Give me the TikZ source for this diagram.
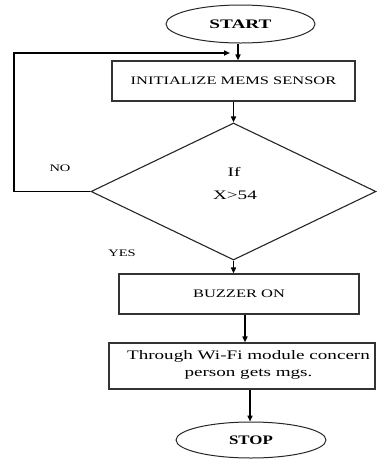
\documentclass[tikz,border=0pt]{standalone}
\usepackage{fontspec}
\setmainfont{Liberation Serif}
\usetikzlibrary{shapes.geometric,arrows.meta}
\newcommand{\sx}[2]{\scalebox{#1}[1]{#2}}
\begin{document}
\begin{tikzpicture}[x=1pt,y=-1pt,
  box/.style={draw=black!80, line width=1.1pt, rectangle, inner sep=0pt},
  term/.style={draw=black!85, line width=1pt, ellipse, inner sep=0pt},
  conn/.style={line width=1.5pt, -{Triangle[length=6pt,width=5pt]}},
  lbl/.style={inner sep=0pt}]
\useasboundingbox (0,0) rectangle (376,459);

\node[term, minimum width=149pt, minimum height=38pt] (start) at (240.5,24)
  {\fontsize{13}{15}\selectfont\bfseries\sx{1.48}{START}};
\node[box, minimum width=243pt, minimum height=40pt] (init) at (233.5,81)
  {\fontsize{11.5}{14}\selectfont\sx{1.43}{INITIALIZE MEMS SENSOR}};
\node[diamond, draw=black!85, line width=1.1pt, minimum width=285pt, minimum height=137pt,
  inner sep=0pt, aspect=2.08] (dec) at (233.5,191.5) {};
\node[lbl] (iftxt) at (234,172) {\fontsize{13}{15}\selectfont\sx{1.48}{If}};
\node[lbl] (cond) at (235,195) {\fontsize{13}{15}\selectfont\sx{1.48}{X>54}};
\node[lbl] (no) at (60,168) {\fontsize{10}{12}\selectfont\sx{1.45}{NO}};
\node[lbl] (yes) at (122,253) {\fontsize{10}{12}\selectfont\sx{1.45}{YES}};
\node[box, minimum width=240pt, minimum height=40pt] (buzz) at (239,294)
  {\fontsize{11.5}{14}\selectfont\sx{1.43}{BUZZER ON}};
\node[box, minimum width=266pt, minimum height=46pt] (wifi) at (242,366) {};
\node[lbl, align=center, font=\fontsize{13}{17}\selectfont] (wifitxt) at (248.5,365)
  {\sx{1.47}{Through Wi-Fi module concern}\\\sx{1.47}{person gets mgs.}};
\node[term, minimum width=150pt, minimum height=36pt] (stop) at (251,440)
  {\fontsize{13}{15}\selectfont\bfseries\sx{1.3}{STOP}};

\coordinate (loopend) at (230,53);

\draw[conn] (238,0 |- start.south) -- (238,0 |- init.north);
\draw[conn] (init.south -| dec.north) -- (dec.north);
\draw[conn] (dec.south) -- (dec.south |- buzz.north);
\draw[conn] (245,0 |- buzz.south) -- (245,0 |- wifi.north);
\draw[conn] (250,0 |- wifi.south) -- (250,0 |- stop.north);
\draw[conn] (dec.west) -| (14,53) -- (loopend);
\end{tikzpicture}
\end{document}
